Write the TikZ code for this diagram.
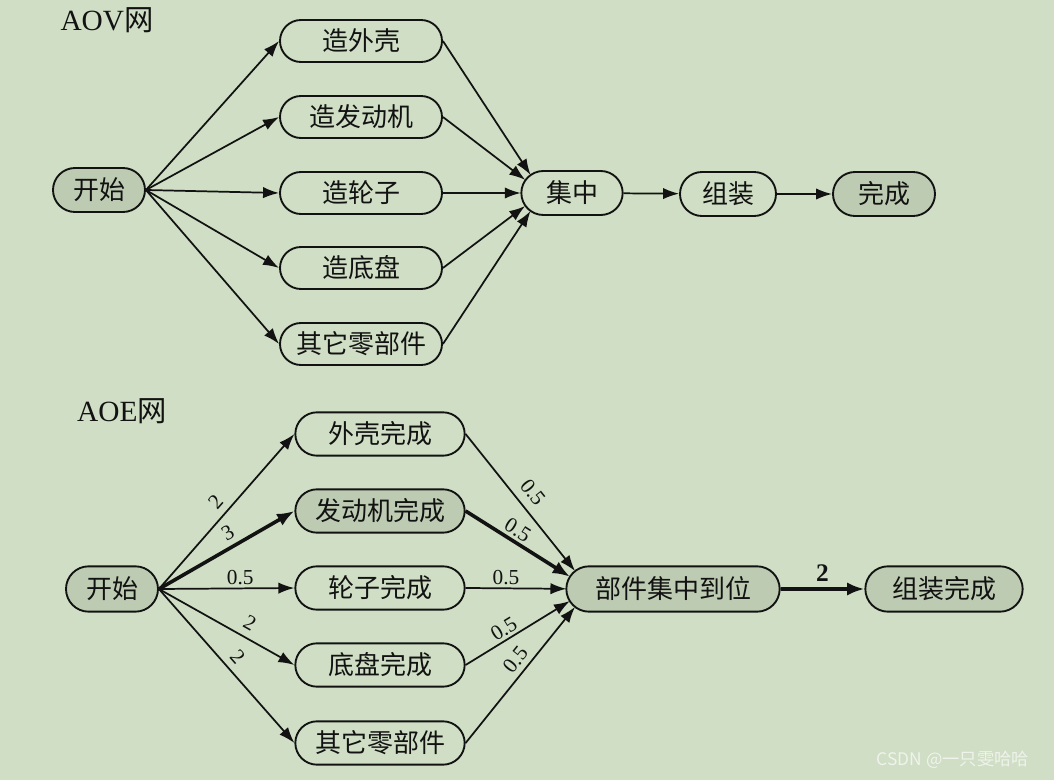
\documentclass[tikz,border=0pt]{standalone}
\usepackage{fontspec}
\setmainfont{Liberation Serif}
\newfontfamily\cjk{Noto Sans CJK SC}
\usetikzlibrary{arrows.meta,shapes.misc}
\definecolor{bgc}{RGB}{207,222,196}
\definecolor{fillc}{RGB}{189,203,178}
\definecolor{inkc}{RGB}{18,18,18}
\definecolor{wmc}{RGB}{240,243,236}
\tikzset{
  box/.style={rounded rectangle, draw=inkc, line width=1.4pt, inner sep=0pt,
              minimum height=31.5pt, font=\cjk\fontsize{19.5}{22}\selectfont, text=inkc},
  hot/.style={fill=fillc},
  aovw/.style={minimum width=121.5pt},
  aoew/.style={minimum width=127pt, minimum height=32.5pt},
  endc/.style={circle, inner sep=0pt, minimum size=32pt},
  arr/.style={draw=inkc, line width=1.3pt, -{Latex[length=12pt,width=8.5pt]}},
  thick arr/.style={draw=inkc, line width=2.7pt, -{Latex[length=13pt,width=10pt]}},
  wt/.style={font=\fontsize{16}{18}\selectfont, text=inkc, inner sep=2pt},
  title/.style={font=\fontsize{22}{24}\selectfont, text=inkc}
}
\begin{document}
\begin{tikzpicture}[x=0.75pt,y=-0.75pt]
\useasboundingbox (0,0) rectangle (1054,780);
\fill[bgc] (0,0) rectangle (1054,780);

% ---------- AOV ----------
\node[title] (aovt) at (107,20) {AOV{\cjk 网}};
\node[box,hot,minimum width=69pt,minimum height=33pt] (s1) at (99,190) {开始};
\node[box,aovw] (a1) at (361,41) {造外壳};
\node[box,aovw] (a2) at (361,117) {造发动机};
\node[box,aovw] (a3) at (361,193) {造轮子};
\node[box,aovw] (a4) at (361,268) {造底盘};
\node[box,aovw] (a5) at (361,344) {其它零部件};
\node[box,minimum width=76pt,minimum height=33pt] (jz) at (572,193) {集中};
\node[box,minimum width=72pt,minimum height=33pt] (zz) at (728,194) {组装};
\node[box,hot,minimum width=76.5pt,minimum height=33pt] (wc) at (884,194) {完成};
\path (jz.west) ++(22,0) node[endc] (jzL) {};

\foreach \b in {a1,a2,a3,a4,a5}{
  \draw[arr] (s1.east) -- (\b.west);
  \draw[arr] (\b.east) -- (jzL);
}
\draw[arr] (jz) -- (zz);
\draw[arr] (zz) -- (wc);

% ---------- AOE ----------
\node[title] (aoet) at (122,411) {AOE{\cjk 网}};
\node[box,hot,minimum width=69pt,minimum height=34pt] (s2) at (112,589) {开始};
\node[box,aoew] (e1) at (380,434) {外壳完成};
\node[box,aoew,hot] (e2) at (380,511) {发动机完成};
\node[box,aoew] (e3) at (380,588) {轮子完成};
\node[box,aoew] (e4) at (380,665) {底盘完成};
\node[box,aoew] (e5) at (380,743) {其它零部件};
\node[box,hot,minimum width=160pt,minimum height=34pt] (bj) at (673,589) {部件集中到位};
\node[box,hot,minimum width=118pt,minimum height=34pt] (zw) at (944,589) {组装完成};
\path (bj.west) ++(24,0) node[endc,minimum size=34pt] (bjL) {};

\draw[arr] (s2.east) -- node[wt,sloped,above=3pt,pos=0.5] {2} (e1.west);
\draw[thick arr] (s2.east) -- node[wt,sloped,above=2pt,pos=0.56] {3} (e2.west);
\draw[arr] (s2.east) -- node[wt,above,pos=0.6] {0.5} (e3.west);
\draw[arr] (s2.east) -- node[wt,sloped,above=3pt,pos=0.62] {2} (e4.west);
\draw[arr] (s2.east) -- node[wt,sloped,above=3pt,pos=0.5] {2} (e5.west);

\draw[arr] (e1.east) -- node[wt,sloped,above=4pt,pos=0.5] {0.5} (bjL);
\draw[thick arr] (e2.east) -- node[wt,sloped,above,pos=0.44] {0.5} (bjL);
\draw[arr] (e3.east) -- node[wt,above,pos=0.4] {0.5} (bjL);
\draw[arr] (e4.east) -- node[wt,sloped,above,pos=0.42] {0.5} (bjL);
\draw[arr] (e5.east) -- node[wt,sloped,above=2pt,pos=0.55] {0.5} (bjL);

\draw[thick arr] (bj) -- node[above,font=\bfseries\fontsize{19}{21}\selectfont,text=inkc,inner sep=4pt] {2} (zw);

% watermark
\node[font=\cjk\fontsize{13}{15}\selectfont, text=wmc] (wm) at (953,760) {CSDN @一只雯哈哈};
\end{tikzpicture}
\end{document}
